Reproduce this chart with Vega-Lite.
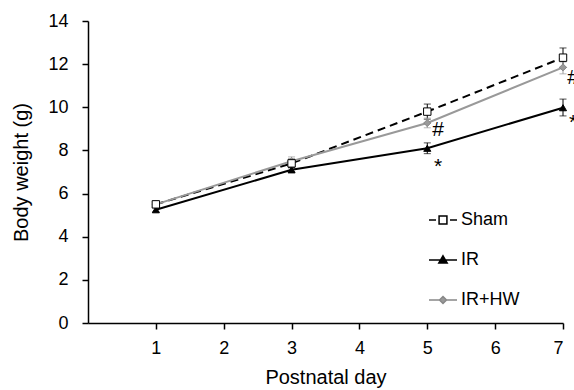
{
  "$schema": "https://vega.github.io/schema/vega-lite/v6.json",
  "width": 475,
  "height": 302,
  "autosize": "none",
  "padding": {"left": 88, "top": 21, "right": 11, "bottom": 67},
  "background": "white",
  "config": {
    "font": "Liberation Sans",
    "view": {"stroke": null},
    "axis": {"grid": false, "domainColor": "black", "tickColor": "black", "domainWidth": 1.5, "tickWidth": 1.5, "tickSize": 6, "labelFontSize": 18, "labelColor": "black", "titleFontSize": 20, "titleFontWeight": "normal", "titleColor": "black", "labelFont": "Liberation Sans", "titleFont": "Liberation Sans"}
  },
  "datasets": {
    "main": [
      {"group": "Sham", "day": 1, "wt": 5.5, "lo": 5.4, "hi": 5.6},
      {"group": "Sham", "day": 3, "wt": 7.4, "lo": 7.2, "hi": 7.6},
      {"group": "Sham", "day": 5, "wt": 9.8, "lo": 9.45, "hi": 10.15},
      {"group": "Sham", "day": 7, "wt": 12.3, "lo": 11.85, "hi": 12.75},
      {"group": "IR", "day": 1, "wt": 5.25, "lo": 5.15, "hi": 5.35},
      {"group": "IR", "day": 3, "wt": 7.1, "lo": 7.0, "hi": 7.2},
      {"group": "IR", "day": 5, "wt": 8.1, "lo": 7.85, "hi": 8.35},
      {"group": "IR", "day": 7, "wt": 9.98, "lo": 9.6, "hi": 10.38},
      {"group": "IR+HW", "day": 1, "wt": 5.5, "lo": 5.4, "hi": 5.6},
      {"group": "IR+HW", "day": 3, "wt": 7.5, "lo": 7.3, "hi": 7.7},
      {"group": "IR+HW", "day": 5, "wt": 9.27, "lo": 9.05, "hi": 9.5},
      {"group": "IR+HW", "day": 7, "wt": 11.85, "lo": 11.55, "hi": 12.1}
    ],
    "notes": [
      {"label": "#", "day": 5.16, "wt": 8.95},
      {"label": "*", "day": 5.16, "wt": 7.25},
      {"label": "#", "day": 7.15, "wt": 11.35},
      {"label": "*", "day": 7.15, "wt": 9.25}
    ]
  },
  "layer": [
    {
      "data": {"name": "main"},
      "transform": [{"filter": "datum.group === 'Sham'"}],
      "mark": {"type": "line", "strokeWidth": 2, "color": "black", "strokeDash": [8, 5]},
      "encoding": {
        "x": {"field": "day", "type": "quantitative", "title": "Postnatal day", "scale": {"domain": [0, 7], "nice": false}, "axis": {"values": [1, 2, 3, 4, 5, 6, 7], "format": "d", "titlePadding": 10, "labelPadding": 10}},
        "y": {"field": "wt", "type": "quantitative", "title": "Body weight (g)", "scale": {"domain": [0, 14], "nice": false}, "axis": {"values": [0, 2, 4, 6, 8, 10, 12, 14], "format": "d", "titlePadding": 16, "labelPadding": 14}}
      }
    },
    {
      "data": {"name": "main"},
      "transform": [{"filter": "datum.group === 'IR'"}],
      "mark": {"type": "line", "strokeWidth": 2, "color": "black"},
      "encoding": {
        "x": {"field": "day", "type": "quantitative", "title": "Postnatal day"},
        "y": {"field": "wt", "type": "quantitative", "title": "Body weight (g)"}
      }
    },
    {
      "data": {"name": "main"},
      "transform": [{"filter": "datum.group === 'IR+HW'"}],
      "mark": {"type": "line", "strokeWidth": 2, "color": "#999999"},
      "encoding": {
        "x": {"field": "day", "type": "quantitative", "title": "Postnatal day"},
        "y": {"field": "wt", "type": "quantitative", "title": "Body weight (g)"}
      }
    },
    {
      "data": {"name": "main"},
      "transform": [{"filter": "datum.group !== 'IR+HW'"}],
      "mark": {"type": "errorbar", "thickness": 1, "color": "black", "rule": {"color": "black", "strokeWidth": 1}, "ticks": {"size": 7, "color": "black", "thickness": 1}},
      "encoding": {
        "x": {"field": "day", "type": "quantitative", "title": "Postnatal day"},
        "y": {"field": "lo", "type": "quantitative", "title": "Body weight (g)"},
        "y2": {"field": "hi"}
      }
    },
    {
      "data": {"name": "main"},
      "transform": [{"filter": "datum.group === 'IR+HW'"}],
      "mark": {"type": "errorbar", "thickness": 1, "color": "#999999", "rule": {"color": "#999999", "strokeWidth": 1}, "ticks": {"size": 7, "color": "#999999", "thickness": 1}},
      "encoding": {
        "x": {"field": "day", "type": "quantitative", "title": "Postnatal day"},
        "y": {"field": "lo", "type": "quantitative", "title": "Body weight (g)"},
        "y2": {"field": "hi"}
      }
    },
    {
      "data": {"name": "main"},
      "transform": [{"filter": "datum.group === 'IR+HW'"}],
      "mark": {"type": "point", "shape": "diamond", "filled": true, "fill": "#999999", "stroke": "#888888", "size": 50, "strokeWidth": 1, "opacity": 1},
      "encoding": {
        "x": {"field": "day", "type": "quantitative", "title": "Postnatal day"},
        "y": {"field": "wt", "type": "quantitative", "title": "Body weight (g)"}
      }
    },
    {
      "data": {"name": "main"},
      "transform": [{"filter": "datum.group === 'IR'"}],
      "mark": {"type": "point", "shape": "triangle-up", "filled": true, "fill": "black", "stroke": "black", "size": 50, "strokeWidth": 1, "opacity": 1},
      "encoding": {
        "x": {"field": "day", "type": "quantitative", "title": "Postnatal day"},
        "y": {"field": "wt", "type": "quantitative", "title": "Body weight (g)"}
      }
    },
    {
      "data": {"name": "main"},
      "transform": [{"filter": "datum.group === 'Sham'"}],
      "mark": {"type": "point", "shape": "square", "filled": true, "size": 55, "strokeWidth": 1, "opacity": 1},
      "encoding": {
        "x": {"field": "day", "type": "quantitative", "title": "Postnatal day"},
        "y": {"field": "wt", "type": "quantitative", "title": "Body weight (g)"},
        "fill": {
          "field": "group", "type": "nominal",
          "scale": {"domain": ["Sham", "IR", "IR+HW"], "range": ["#ffffff", "#000000", "#999999"]},
          "legend": {
            "title": null, "orient": "none", "legendX": 340, "legendY": 184,
            "symbolSize": 784, "symbolStrokeWidth": 1.5, "symbolOpacity": 1, "rowPadding": 16, "labelFontSize": 18, "labelColor": "black", "labelOffset": 3,
            "encode": {"symbols": {"update": {
              "shape": {"signal": "datum.value === 'Sham' ? 'M-1,0L-0.5,0M0.5,0L1,0M-0.28,-0.28L0.28,-0.28L0.28,0.28L-0.28,0.28Z' : datum.value === 'IR' ? 'M-1,0L1,0M0,-0.3L0.3,0.22L-0.3,0.22Z' : 'M-1,0L-0.28,0M0.28,0L1,0M0,-0.25L0.25,0L0,0.25L-0.25,0Z'"}
            }}}
          }
        },
        "stroke": {
          "field": "group", "type": "nominal",
          "scale": {"domain": ["Sham", "IR", "IR+HW"], "range": ["#000000", "#000000", "#888888"]},
          "legend": {
            "title": null, "orient": "none", "legendX": 340, "legendY": 184,
            "symbolSize": 784, "symbolStrokeWidth": 1.5, "symbolOpacity": 1, "rowPadding": 16, "labelFontSize": 18, "labelColor": "black", "labelOffset": 3,
            "encode": {"symbols": {"update": {
              "shape": {"signal": "datum.value === 'Sham' ? 'M-1,0L-0.5,0M0.5,0L1,0M-0.28,-0.28L0.28,-0.28L0.28,0.28L-0.28,0.28Z' : datum.value === 'IR' ? 'M-1,0L1,0M0,-0.3L0.3,0.22L-0.3,0.22Z' : 'M-1,0L-0.28,0M0.28,0L1,0M0,-0.25L0.25,0L0,0.25L-0.25,0Z'"}
            }}}
          }
        }
      }
    },
    {
      "data": {"name": "notes"},
      "mark": {"type": "text", "fontSize": 21, "color": "black", "baseline": "middle", "align": "center"},
      "encoding": {
        "x": {"field": "day", "type": "quantitative", "title": "Postnatal day"},
        "y": {"field": "wt", "type": "quantitative", "title": "Body weight (g)"},
        "text": {"field": "label"}
      }
    }
  ]
}
